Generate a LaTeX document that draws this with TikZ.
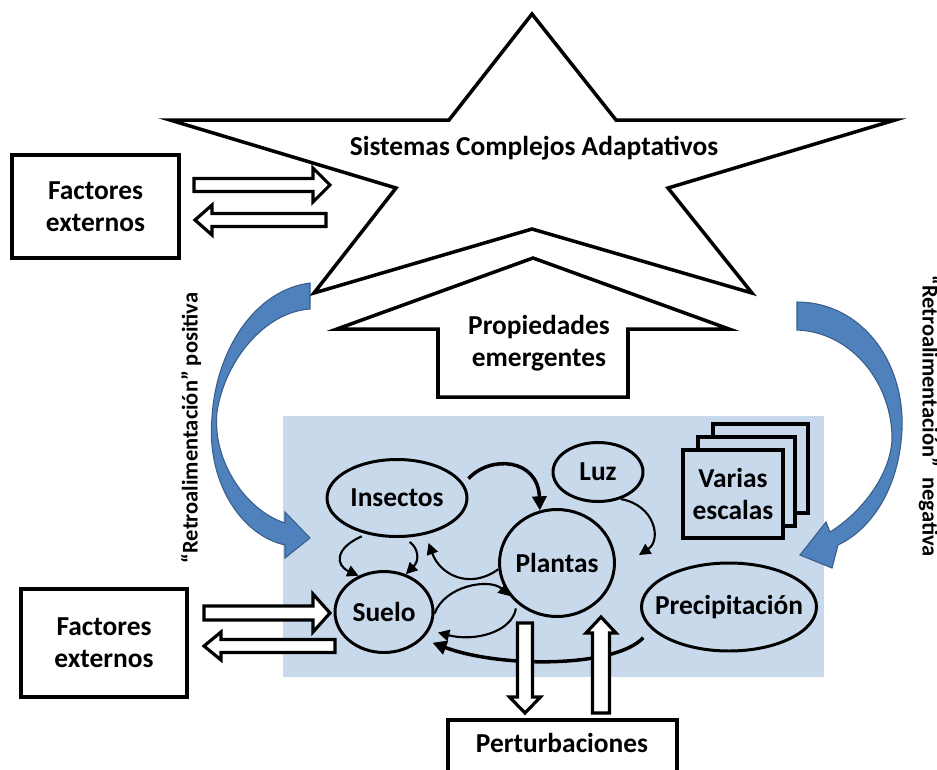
\documentclass[tikz,border=0pt]{standalone}
\usepackage{fontspec}
\setmainfont{Carlito}
\usetikzlibrary{shapes.geometric,arrows.meta}
\definecolor{bgblue}{RGB}{201,217,236}
\definecolor{fbblue}{RGB}{79,129,189}
\definecolor{fbedge}{RGB}{56,93,138}
\tikzset{
	lbl/.style={font=\fontsize{15.6}{18}\selectfont\bfseries,align=center},
	smalllbl/.style={font=\fontsize{12.8}{14}\selectfont\bfseries},
	box/.style={draw,line width=2pt,lbl},
	elli/.style={ellipse,draw,line width=1.7pt,lbl,inner ysep=0pt,inner xsep=-4pt},
	thinarr/.style={line width=1.2pt,-{Triangle[length=6.5pt,width=6.5pt]}},
	thickarr/.style={line width=2pt,-{Triangle[length=8pt,width=8pt]}},
	blockarr/.style={draw,line width=1.8pt,fill=white},
	fback/.style={fill=fbblue,draw=fbedge,line width=0.6pt},
	pics/barrow/.style args={#1/#2/#3/#4}{code={
		\draw[blockarr] (0,-#2) -- (#1-#4,-#2) -- (#1-#4,-#3) -- (#1,0) -- (#1-#4,#3) -- (#1-#4,#2) -- (0,#2) -- cycle;
	}}
}
\begin{document}
\begin{tikzpicture}[x=0.02cm,y=-0.02cm]
	\useasboundingbox (0,0) rectangle (937,769);
	\fill[bgblue] (283,416) rectangle (824,677);
	% star
	\draw[line width=2pt] (532,14) -- (616,120) -- (895,120) -- (668,188) -- (752,293) -- (532,229)
		-- (314,293) -- (396,188) -- (170,120) -- (449,120) -- cycle;
	\node [lbl] (sca) at (534,148) {Sistemas Complejos Adaptativos};
	% propiedades
	\draw[line width=2pt] (533,258) -- (729,329) -- (628,329) -- (628,397) -- (438,397) -- (438,329) -- (337,329) -- cycle;
	\node [lbl] (prop) at (539,343) {Propiedades\\emergentes};
	% factores externos
	\node [box,minimum width=3.34cm,minimum height=2.06cm] (fext1) at (95.5,206.5) {Factores\\externos};
	\node [box,minimum width=3.32cm,minimum height=2.16cm] (fext2) at (104,643) {Factores\\externos};
	\pic at (194,185) {barrow=136/6.5/17/17};
	\pic[rotate=180] at (326,220) {barrow=131/6.5/15/17};
	\pic at (204,613) {barrow=126/7/19/17};
	\pic[rotate=180] at (335,646) {barrow=131/6.5/14/17};

	% sistema
	\draw[line width=2pt,fill=bgblue] (713,424) rectangle (808,513);
	\draw[line width=2pt,fill=bgblue] (698,437) rectangle (795,526);
	\node [box,fill=bgblue,minimum width=2cm,minimum height=1.76cm] (escalas) at (733,494) {Varias\\escalas};

	\node [elli,minimum width=2.8cm,minimum height=1.54cm] (insectos) at (397,498) {Insectos};
	\node [elli,minimum width=1.8cm,minimum height=1.18cm] (luz) at (598,472) {Luz};
	\node [elli,minimum width=2.3cm,minimum height=2.14cm] (plantas) at (557,563) {Plantas};
	\node [elli,minimum width=1.96cm,minimum height=1.62cm] (suelo) at (384,612) {Suelo};
	\node [elli,inner xsep=-9pt,minimum width=3.5cm,minimum height=1.76cm] (precip) at (729,607) {Precipitación};

	\draw[thickarr,shorten <=4pt] (insectos.12) .. controls (490,455) and (538,458) .. (plantas.108);
	\draw[thinarr] (luz.-50) .. controls (655,505) and (662,540) .. ([shift={(23,-8)}]plantas.east);
	\draw[thinarr,shorten >=5pt] (plantas.186) .. controls (470,590) and (440,575) .. (insectos.-52);
	\draw[thinarr,shorten <=3pt] (insectos.-130) .. controls (335,548) and (335,565) .. (suelo.125);
	\draw[thinarr,shorten <=4pt] (insectos.-80) .. controls (418,548) and (420,560) .. (suelo.60);
	\draw[thinarr] (suelo.-2) .. controls (445,585) and (490,578) .. (plantas.215);
	\draw[thinarr,shorten <=3pt,shorten >=5pt] (plantas.225) .. controls (512,632) and (475,642) .. (suelo.-22);
	\draw[thickarr,shorten >=6pt] ([xshift=-0.4cm]precip.205) .. controls (615,668) and (500,668) .. (suelo.-35);

	% perturbaciones
	\draw[line width=2pt] (448,720) rectangle (677,800);
	\node [lbl] (pert) at (562,743) {Perturbaciones};
	\pic[rotate=-90] at (525,623) {barrow=90/7.5/15.5/16};
	\pic[rotate=90] at (601,713) {barrow=96/8.5/15/16};

	% retroalimentacion
	\draw[fback] (310,283) -- (310,309) .. controls (265,312) and (225,360) .. (217,412)
		.. controls (212,460) and (245,510) .. (285,523) -- (285,512) -- (310,538) -- (285,558) -- (285,545)
		.. controls (240,535) and (206,480) .. (212,417) .. controls (216,350) and (255,290) .. (310,283) -- cycle;
	\draw[fback] (797,302) .. controls (860,302) and (905,360) .. (902,430)
		.. controls (899,490) and (870,530) .. (838,545) -- (832,568) -- (800,555) -- (826,522) -- (830,532)
		.. controls (865,510) and (893,470) .. (892,435) .. controls (890,380) and (850,332) .. (797,330) -- cycle;
	\node [smalllbl,rotate=90] (pos) at (191,428) {“Retroalimentación” positiva};
	\node [smalllbl,rotate=-90] (neg) at (929,416) {“Retroalimentación”\ \ negativa};
\end{tikzpicture}
\end{document}
